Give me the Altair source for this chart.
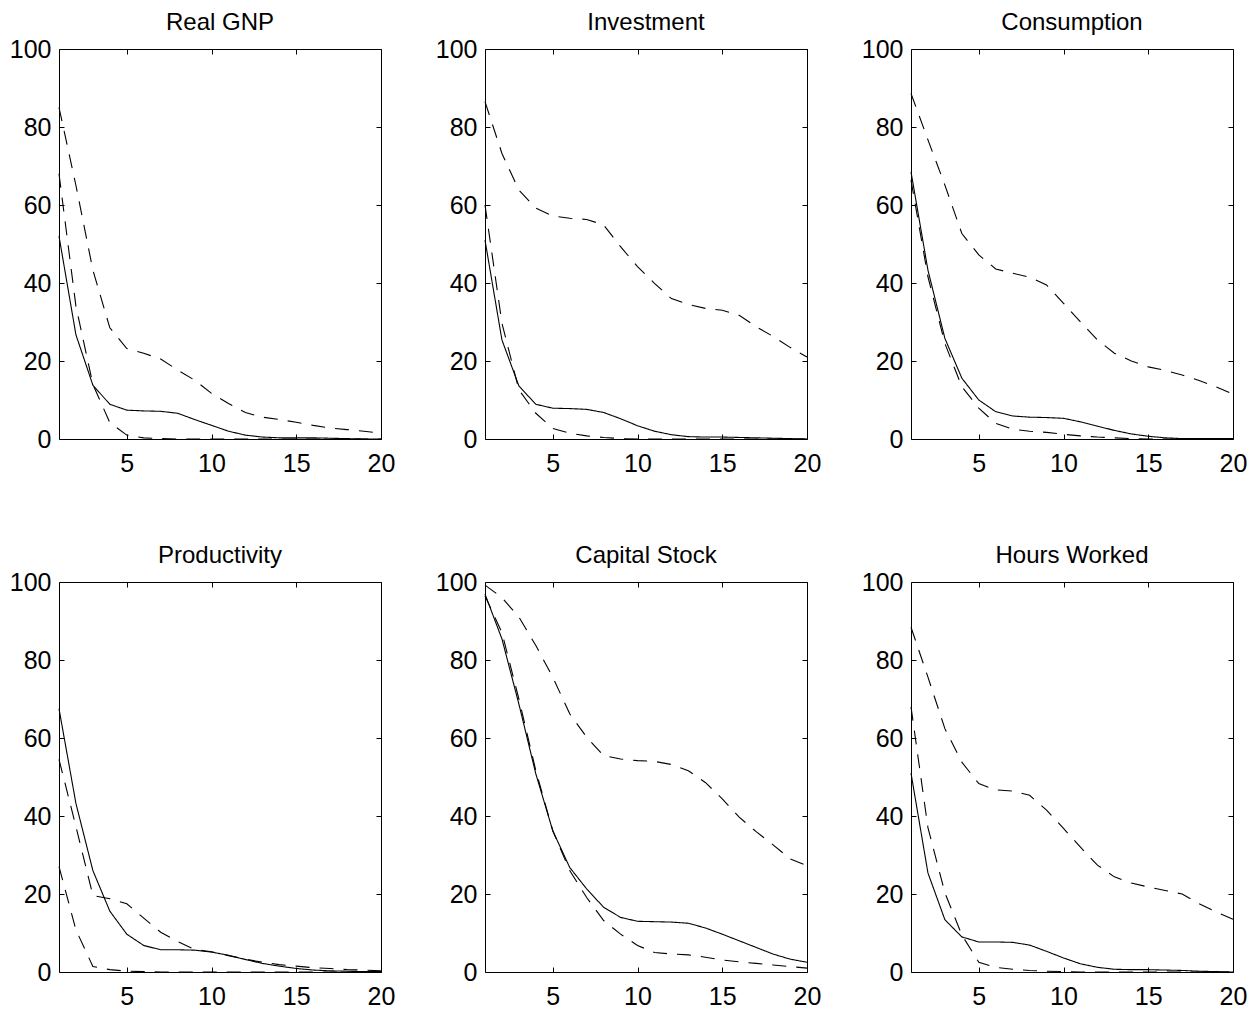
import altair as alt
import pandas as pd

horizon = list(range(1, 21))

titles = ["Real GNP", "Investment", "Consumption",
          "Productivity", "Capital Stock", "Hours Worked"]

gnp_mid = [52, 26.7, 13.8, 8.9, 7.4, 7.2, 7.1, 6.6, 5.0, 3.5, 2.0, 1.0, 0.5, 0.3, 0.3, 0.3, 0.2, 0.1, 0.0, 0.0]
gnp_hi = [85, 65, 43.3, 28.5, 23.2, 22.0, 20.5, 17.7, 15.1, 11.7, 9.1, 6.8, 5.6, 5.0, 4.3, 3.5, 2.8, 2.4, 2.0, 1.5]
gnp_lo = [68, 34, 14, 4.2, 1.0, 0.3, 0.1, 0, 0, 0, 0, 0, 0, 0, 0, 0, 0, 0, 0, 0]

inv_mid = [51, 25.4, 13.6, 8.9, 7.9, 7.8, 7.6, 6.8, 5.2, 3.4, 2.0, 1.1, 0.6, 0.5, 0.5, 0.4, 0.3, 0.2, 0.1, 0.0]
inv_hi = [86.5, 73.2, 63.8, 59.2, 57.2, 56.6, 56.3, 54.9, 49.3, 44.2, 39.9, 36.0, 34.5, 33.5, 33.0, 31.7, 28.8, 26.3, 23.5, 21.0]
inv_lo = [60, 29.7, 12.6, 6.6, 2.7, 1.5, 0.8, 0.4, 0.1, 0, 0, 0, 0, 0, 0, 0, 0, 0, 0, 0]

con_mid = [68.5, 43.3, 25.8, 15.6, 10.0, 7.0, 5.9, 5.6, 5.5, 5.3, 4.4, 3.3, 2.2, 1.3, 0.7, 0.3, 0.1, 0.1, 0.1, 0.1]
con_hi = [88.6, 76.7, 65.1, 52.7, 47.2, 43.6, 42.5, 41.5, 39.5, 34.8, 30.0, 25.4, 22.0, 20.0, 18.5, 17.6, 16.4, 15.0, 13.4, 11.5]
con_lo = [66.4, 41.6, 24.5, 13.4, 7.9, 4.0, 2.5, 2.0, 1.7, 1.2, 0.8, 0.5, 0.3, 0.1, 0, 0, 0, 0, 0, 0]

prd_mid = [67.5, 43.2, 26.0, 15.6, 9.7, 6.8, 5.7, 5.7, 5.6, 5.1, 4.3, 3.2, 2.2, 1.5, 0.9, 0.5, 0.3, 0.2, 0.1, 0.1]
prd_hi = [54.5, 37.3, 19.6, 18.8, 17.5, 13.8, 10.2, 7.8, 5.8, 5.2, 4.2, 3.3, 2.5, 1.9, 1.5, 1.1, 0.9, 0.6, 0.5, 0.3]
prd_lo = [27, 10.8, 1.4, 0.6, 0.2, 0.1, 0, 0, 0, 0, 0, 0, 0, 0, 0, 0, 0, 0, 0, 0]

cap_mid = [96.9, 85.4, 68.7, 50.8, 36.2, 26.8, 21.3, 16.6, 14.0, 13.0, 12.9, 12.8, 12.5, 11.3, 9.7, 8.0, 6.3, 4.6, 3.3, 2.5]
cap_hi = [99.2, 96.0, 91.0, 83.7, 75.6, 66.2, 60.2, 55.5, 54.6, 54.2, 54.0, 53.2, 51.6, 48.6, 44.4, 39.7, 36.0, 32.6, 29.0, 27.3]
cap_lo = [96.5, 87.0, 70.0, 51.6, 36.2, 26.0, 19.1, 13.2, 9.7, 6.8, 5.0, 4.6, 4.4, 3.8, 3.1, 2.6, 2.2, 1.8, 1.4, 1.0]

hrs_mid = [51, 25.4, 13.4, 9.0, 7.7, 7.7, 7.6, 6.9, 5.3, 3.6, 2.1, 1.2, 0.7, 0.6, 0.6, 0.5, 0.4, 0.2, 0.1, 0.0]
hrs_hi = [88.4, 75.6, 62.4, 53.8, 48.3, 46.7, 46.4, 45.3, 41.5, 36.8, 32.0, 27.4, 24.4, 22.8, 21.8, 20.9, 20.0, 17.5, 15.4, 13.5]
hrs_lo = [68, 37, 20.3, 9.5, 2.5, 1.2, 0.7, 0.4, 0.2, 0.1, 0, 0, 0, 0, 0, 0, 0, 0, 0, 0]

series = {
    "Real GNP": (gnp_mid, gnp_hi, gnp_lo),
    "Investment": (inv_mid, inv_hi, inv_lo),
    "Consumption": (con_mid, con_hi, con_lo),
    "Productivity": (prd_mid, prd_hi, prd_lo),
    "Capital Stock": (cap_mid, cap_hi, cap_lo),
    "Hours Worked": (hrs_mid, hrs_hi, hrs_lo),
}

FONT = "Liberation Sans"
FS = 25
TFS = 24
W, H = 322, 390
TICK = 5


def panel(name):
    mid, hi, lo = series[name]
    rows = []
    for band, vals, style in (("mid", mid, "solid"), ("hi", hi, "dash"), ("lo", lo, "dash")):
        for h, v in zip(horizon, vals):
            rows.append({"h": h, "v": v, "band": band, "style": style})
    df = pd.DataFrame(rows)

    xs = alt.Scale(domain=[1, 20], nice=False, zero=False)
    ys = alt.Scale(domain=[0, 100], nice=False)
    common = dict(domain=False, grid=False, tickSize=TICK, offset=-TICK,
                  tickColor="black", tickWidth=1, labelFlush=False,
                  labelFont=FONT, labelFontSize=FS, labelColor="black")

    main = alt.Chart(df).mark_line(color="black", strokeWidth=1.1).encode(
        x=alt.X("h:Q", scale=xs, title=None,
                axis=alt.Axis(orient="bottom", values=[5, 10, 15, 20], labelPadding=12, **common)),
        y=alt.Y("v:Q", scale=ys, title=None,
                axis=alt.Axis(orient="left", values=[0, 20, 40, 60, 80, 100], labelPadding=8, **common)),
        detail="band:N",
        strokeDash=alt.StrokeDash("style:N", scale=alt.Scale(domain=["solid", "dash"], range=[[1, 0], [14, 10]]), legend=None),
    )
    frame = alt.Chart(df).mark_line(opacity=0).encode(
        x=alt.X("h:Q", scale=xs, title=None,
                axis=alt.Axis(orient="top", values=[5, 10, 15, 20], labels=False, **common)),
        y=alt.Y("v:Q", scale=ys, title=None,
                axis=alt.Axis(orient="right", values=[0, 20, 40, 60, 80, 100], labels=False, **common)),
        detail="band:N",
    )
    return alt.layer(main, frame).resolve_axis(x="independent", y="independent").properties(
        width=W, height=H,
        title=alt.TitleParams(name, font=FONT, fontSize=TFS, fontWeight="normal", color="black", offset=2),
    )


row1 = alt.hconcat(*[panel(t) for t in titles[:3]], spacing=38)
row2 = alt.hconcat(*[panel(t) for t in titles[3:]], spacing=38)
chart = alt.vconcat(row1, row2, spacing=66).properties(
    padding={"left": 0, "top": 2, "right": 0, "bottom": 0}).configure_view(
    stroke="black", strokeWidth=1)

chart.save("out.html", embed_options={"renderer": "svg", "actions": False})
